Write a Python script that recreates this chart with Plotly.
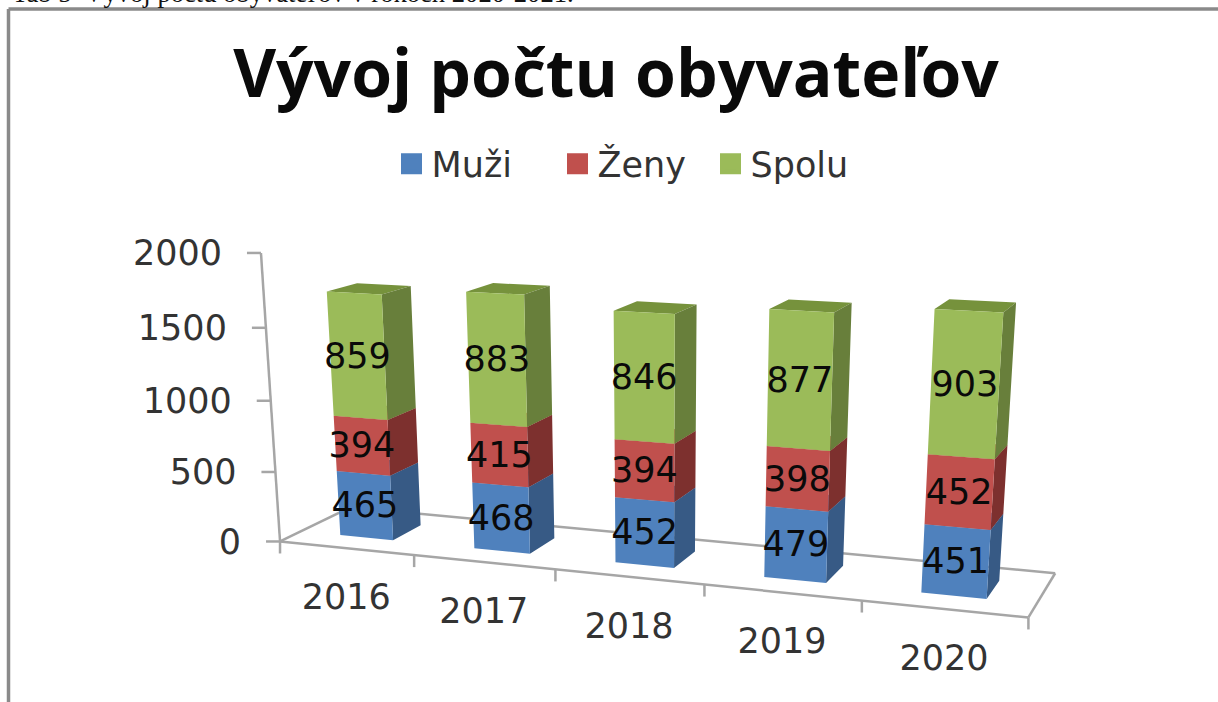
import numpy as np
import plotly.graph_objects as go

categories = ["2016", "2017", "2018", "2019", "2020"]
muzi = [465, 468, 452, 479, 451]
zeny = [394, 415, 394, 398, 452]
spolu = [859, 883, 846, 877, 903]
value_ticks = [0, 500, 1000, 1500, 2000]

series = [("Muži", muzi, "#4F81BD", "#375A85", "#4F81BD"),
          ("Ženy", zeny, "#C0504D", "#7D302E", "#C0504D"),
          ("Spolu", spolu, "#9BBB59", "#687F3B", "#76923C")]

W, H = 1218, 702
BAR_X = (0.30, 0.70)
BAR_Z = (0.29, 0.71)

# camera calibration: (category pos, value, depth) -> picture position of the 3-D box
calib = [
    (0, 0, 0, 280, 541.7), (5, 0, 0, 1027, 618), (5, 0, 1, 1055.7, 572.7), (0, 0, 1, 348, 507),
    (0, 2000, 0, 260, 253), (0, 1000, 0, 269, 400.7), (1, 0, 0, 413, 556),
    (.3, 1718, .29, 328, 291.7), (.7, 1718, .29, 383, 294), (.7, 1718, .71, 411, 287), (.3, 1718, .71, 356.7, 284),
    (4.3, 1806, .29, 935, 308), (4.7, 1806, .29, 1004, 311.7), (4.7, 1806, .71, 1016, 302.7), (4.3, 1806, .71, 948, 299),
    (4.3, 0, .29, 921.7, 592.7), (4.7, 0, .29, 986.7, 599.3), (4.7, 0, .71, 999.3, 581.7),
    (.3, 0, .29, 341.7, 534), (.7, 0, .29, 395, 539.3), (.7, 0, .71, 421.7, 525),
]
A = []
for X, V, Z, u, v in calib:
    p = [X, V / 1000, Z, 1]
    A.append(p + [0, 0, 0, 0] + [-u * c for c in p])
    A.append([0, 0, 0, 0] + p + [-v * c for c in p])
P = np.linalg.svd(np.array(A))[2][-1].reshape(3, 4)


def proj(X, V, Z):
    q = P @ np.array([X, V / 1000, Z, 1])
    return q[0] / q[2], q[1] / q[2]


def poly(points, xs, ys):
    pts = [proj(*p) for p in points]
    xs += [a for a, _ in pts] + [pts[0][0], None]
    ys += [b for _, b in pts] + [pts[0][1], None]


fig = go.Figure()
AXIS = dict(color="#A6A6A6", width=2.5)
TXT = "DejaVu Sans"

lx, ly = [], []
for a, b in [((0, 0, 0), (5, 0, 0)), ((5, 0, 0), (5, 0, 1)), ((5, 0, 1), (0, 0, 1)), ((0, 0, 1), (0, 0, 0)),
             ((0, 0, 0), (0, 2000, 0))]:
    p, q = proj(*a), proj(*b)
    lx += [p[0], q[0], None]
    ly += [p[1], q[1], None]
for t in value_ticks:
    p = proj(0, t, 0)
    lx += [p[0], p[0] - 14, None]
    ly += [p[1], p[1], None]
for i in range(len(categories) + 1):
    p = proj(i, 0, 0)
    lx += [p[0], p[0], None]
    ly += [p[1], p[1] + 12, None]
fig.add_trace(go.Scatter(x=lx, y=ly, mode="lines", line=AXIS, showlegend=False, hoverinfo="skip"))

x0, x1 = BAR_X
z0, z1 = BAR_Z
base = [0] * len(categories)
lab = []
for name, vals, front, side, top in series:
    fx, fy, sx, sy, tx, ty = [], [], [], [], [], []
    for i, v in enumerate(vals):
        b, e = base[i], base[i] + v
        poly([(i + x1, b, z0), (i + x1, b, z1), (i + x1, e, z1), (i + x1, e, z0)], sx, sy)
        poly([(i + x0, e, z0), (i + x1, e, z0), (i + x1, e, z1), (i + x0, e, z1)], tx, ty)
        poly([(i + x0, b, z0), (i + x1, b, z0), (i + x1, e, z0), (i + x0, e, z0)], fx, fy)
        lab.append((i, (b + e) / 2, str(v)))
        base[i] = e
    for xs, ys, c in [(tx, ty, top), (sx, sy, side), (fx, fy, front)]:
        fig.add_trace(go.Scatter(x=xs, y=ys, mode="lines", fill="toself", fillcolor=c, line=dict(width=0, color=c),
                                 showlegend=False, hoverinfo="skip"))

pts = [proj(i + .5, m, .29) for i, m, _ in lab]
fig.add_trace(go.Scatter(x=[p[0] for p in pts], y=[p[1] + 3 for p in pts], mode="text", text=[l[2] for l in lab],
                         textposition="middle center", textfont=dict(family=TXT, size=35, color="#0A0A0A"),
                         showlegend=False, hoverinfo="skip"))

pts = [proj(0, t, 0) for t in value_ticks]
fig.add_trace(go.Scatter(x=[p[0] - 39 for p in pts], y=[p[1] + 3.5 for p in pts], mode="text",
                         text=[str(t) for t in value_ticks], textposition="middle left",
                         textfont=dict(family=TXT, size=35, color="#333333"), showlegend=False, hoverinfo="skip"))

pts = [proj(i + .5, 0, 0) for i in range(len(categories))]
fig.add_trace(go.Scatter(x=[p[0] for p in pts], y=[p[1] + 52 for p in pts], mode="text", text=categories,
                         textposition="middle center", textfont=dict(family=TXT, size=35, color="#333333"),
                         showlegend=False, hoverinfo="skip"))

legend_ids = ["legend", "legend2", "legend3"]
legend_x = [391.5, 557.5, 710.5]
for (name, vals, front, side, top), lid in zip(series, legend_ids):
    fig.add_trace(go.Scatter(x=[None], y=[None], mode="markers", name=name, legend=lid,
                             marker=dict(symbol="square", size=16, color=front, line=dict(width=5, color=front))))
legend_style = dict(orientation="h", xanchor="left", y=1 - 164 / H, yanchor="middle",
                    font=dict(family=TXT, size=35, color="#333333"), bgcolor="rgba(0,0,0,0)", itemsizing="trace")

fig.update_layout(
    width=W, height=H, autosize=False,
    margin=dict(l=0, r=0, t=0, b=0),
    paper_bgcolor="white", plot_bgcolor="white",
    xaxis=dict(visible=False, range=[0, W], fixedrange=True, domain=[0, 1]),
    yaxis=dict(visible=False, range=[H, 0], fixedrange=True, domain=[0, 1]),
    title=dict(text="<b>Vývoj počtu obyvateľov</b>", x=616 / W, xanchor="center", y=1 - 74 / H, yanchor="middle",
               font=dict(family="Open Sans", size=66, color="#0A0A0A")),
    legend=dict(legend_style, x=legend_x[0] / W),
    legend2=dict(legend_style, x=legend_x[1] / W),
    legend3=dict(legend_style, x=legend_x[2] / W),
    shapes=[dict(type="line", xref="x", yref="y", x0=8.5, x1=W, y0=9, y1=9, line=dict(color="#8A8A8A", width=3.5)),
            dict(type="line", xref="x", yref="y", x0=8.5, x1=8.5, y0=9, y1=H, line=dict(color="#8A8A8A", width=3.5))],
    annotations=[dict(text="Tab 5  Vývoj počtu obyvateľov v rokoch 2020-2021.", xref="x", yref="y", x=12, y=7.6,
                      xanchor="left", yanchor="bottom", showarrow=False, borderpad=0, borderwidth=0,
                      font=dict(family="Liberation Serif", size=26.6, color="#111111"))],
)
fig.write_html("out.html", config=dict(displayModeBar=False),
               post_script="document.body.style.margin='0';document.body.style.overflow='hidden';")
